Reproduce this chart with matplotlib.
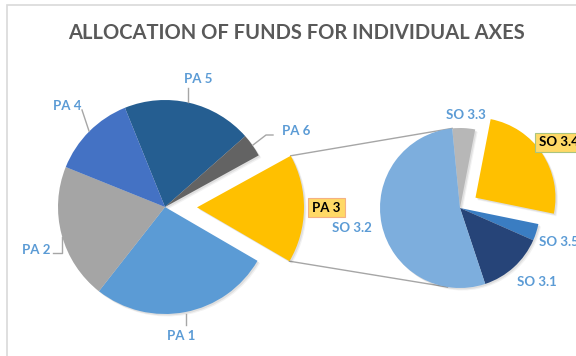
import numpy as np
import matplotlib
matplotlib.use("Agg")
import matplotlib.pyplot as plt
from matplotlib.patches import Rectangle, Wedge

# Main pie: programme axes (listed clockwise from the top)
pa_labels = ["PA 5", "PA 6", "PA 3", "PA 1", "PA 2", "PA 4"]
pa_values = [19.6, 3.5, 16.4, 27.2, 20.5, 12.8]
pa_colors = ["#255E91", "#636363", "#FFC000", "#5B9BD5", "#A5A5A5", "#4472C4"]

# Breakdown of PA 3 into specific objectives (clockwise from the top)
so_labels = ["SO 3.3", "SO 3.4", "SO 3.5", "SO 3.1", "SO 3.2"]
so_values = [4.6, 25.2, 3.4, 13.3, 53.6]
so_colors = ["#B7B7B7", "#FFC000", "#3A7DC2", "#264478", "#7DAEDD"]

title = "ALLOCATION OF FUNDS FOR INDIVIDUAL AXES"

W, H = 576, 356
fig = plt.figure(figsize=(W / 100, H / 100), dpi=100)
ax = fig.add_axes([0, 0, 1, 1])

font = "Lato"
label_blue = "#5B9BD5"
line_gray = "#A6A6A6"

left_c, left_r = (165, 149), 107
right_c, right_r = (460, 148), 80

# explode offsets are in data units here, not fractions of the radius
pa_explode = [32 if l == "PA 3" else 0 for l in pa_labels]
wl, _ = ax.pie(pa_values, colors=pa_colors, startangle=112, counterclock=False,
               center=left_c, radius=left_r, explode=pa_explode,
               wedgeprops=dict(linewidth=0, zorder=2), frame=True)

so_explode = [18.6 if l == "SO 3.4" else 0 for l in so_labels]
wr, _ = ax.pie(so_values, colors=so_colors, startangle=95.6, counterclock=False,
               center=right_c, radius=right_r, explode=so_explode,
               wedgeprops=dict(linewidth=0, zorder=2), frame=True)

# soft drop shadow underneath every wedge
for w in list(wl) + list(wr):
    for k, a in ((2.5, 0.05), (1.5, 0.08)):
        ax.add_patch(Wedge((w.center[0] + k, w.center[1] - k), w.r, w.theta1, w.theta2,
                           facecolor="black", alpha=a, linewidth=0, zorder=1))

ax.set_xlim(0, W)
ax.set_ylim(0, H)
ax.set_aspect("equal")
ax.axis("off")

# chart area frame
ax.add_patch(Rectangle((7, -20), 700, 371, fill=False, edgecolor="#D9D9D9", lw=1.2))

# connector lines from the exploded PA 3 wedge to the secondary pie
w3 = wl[pa_labels.index("PA 3")]
cx, cy = w3.center
p_top = (cx + left_r * np.cos(np.radians(w3.theta2)), cy + left_r * np.sin(np.radians(w3.theta2)))
p_bot = (cx + left_r * np.cos(np.radians(w3.theta1)), cy + left_r * np.sin(np.radians(w3.theta1)))
q_top = (right_c[0] + right_r * np.cos(np.radians(95.6)), right_c[1] + right_r * np.sin(np.radians(95.6)))
q_bot = (right_c[0] + right_r * np.cos(np.radians(261)), right_c[1] + right_r * np.sin(np.radians(261)))
ax.plot([p_top[0], q_top[0]], [p_top[1], q_top[1]], color=line_gray, lw=1, zorder=0)
ax.plot([p_bot[0], q_bot[0]], [p_bot[1], q_bot[1]], color=line_gray, lw=1, zorder=0)

# leader lines
leaders = [
    [(188, 268), (188, 254)],
    [(82, 246), (89, 225)],
    [(273, 221), (266, 221), (253, 211)],
    [(53, 103), (62, 103), (62, 119)],
    [(186, 42), (186, 31)],
]
for pts in leaders:
    xs, ys = zip(*pts)
    ax.plot(xs, ys, color=line_gray, lw=1)

lab_kw = dict(fontfamily=font, fontweight="bold", fontsize=9.5, color=label_blue,
              ha="center", va="center")
ax.text(198, 277, "PA 5", **lab_kw)
ax.text(67, 250, "PA 4", **lab_kw)
ax.text(296, 225, "PA 6", **lab_kw)
ax.text(36, 106, "PA 2", **lab_kw)
ax.text(181, 20, "PA 1", **lab_kw)

ax.text(466, 241, "SO 3.3", **lab_kw)
ax.text(352, 128, "SO 3.2", **lab_kw)
ax.text(539, 114, "SO 3.5", **{**lab_kw, "ha": "left"})
ax.text(517, 74, "SO 3.1", **{**lab_kw, "ha": "left"})

box_kw = dict(fontfamily=font, fontweight="bold", fontsize=9.5, color="black",
              va="center")
ax.text(326.5, 148.5, "PA 3", ha="center",
        bbox=dict(boxstyle="square,pad=0.3", fc="#FFD966", ec="#F4B183", lw=0.8), **box_kw)
ax.text(539, 213.5, "SO 3.4", ha="left",
        bbox=dict(boxstyle="square,pad=0.3", fc="#FFD966", ec="#A9C47F", lw=0.8), **box_kw)

ax.text(296, 323, title, fontfamily=font, fontweight="bold", fontsize=14.5,
        color="#595959", ha="center", va="center")

fig.savefig("out.png", dpi=100)
